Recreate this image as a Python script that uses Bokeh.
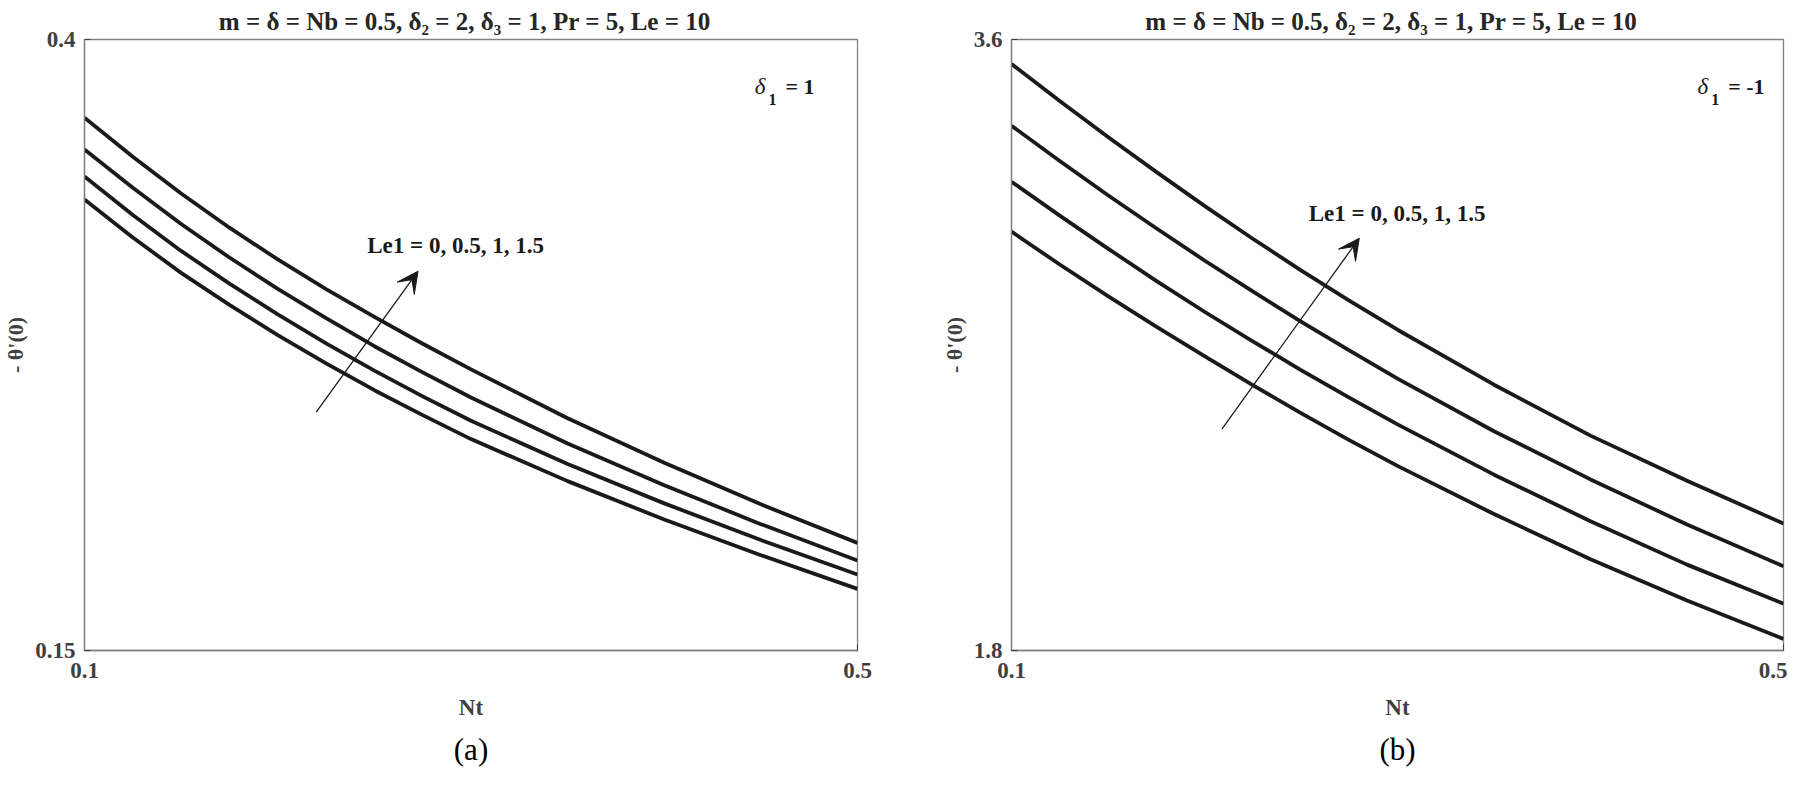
from bokeh.plotting import figure
from bokeh.models import Range1d, FixedTicker, Label, Arrow, VeeHead, Title
from bokeh.layouts import row
from bokeh.embed import file_html
from bokeh.resources import INLINE

# ---------------- data ----------------
nt = [0.100, 0.125, 0.150, 0.175, 0.200, 0.225, 0.250, 0.275, 0.300,
      0.350, 0.400, 0.450, 0.500]
le1_values = ["0", "0.5", "1", "1.5"]

# panel (a): delta1 = 1
a_le1_0 = [0.3345, 0.3190, 0.3045, 0.2914, 0.2790, 0.2675, 0.2565, 0.2463,
           0.2365, 0.2193, 0.2036, 0.1890, 0.1752]
a_le1_05 = [0.3440, 0.3282, 0.3135, 0.3001, 0.2875, 0.2757, 0.2645, 0.2540,
            0.2440, 0.2263, 0.2102, 0.1952, 0.1811]
a_le1_1 = [0.3550, 0.3393, 0.3245, 0.3108, 0.2980, 0.2860, 0.2745, 0.2638,
           0.2535, 0.2347, 0.2176, 0.2017, 0.1868]
a_le1_15 = [0.3680, 0.3520, 0.3370, 0.3230, 0.3100, 0.2979, 0.2865, 0.2755,
            0.2650, 0.2450, 0.2268, 0.2098, 0.1940]

# panel (b): delta1 = -1
b_le1_0 = [3.034, 2.937, 2.844, 2.754, 2.667, 2.582, 2.499, 2.420, 2.344,
           2.202, 2.069, 1.947, 1.834]
b_le1_05 = [3.181, 3.081, 2.984, 2.889, 2.798, 2.711, 2.626, 2.545, 2.466,
            2.318, 2.181, 2.053, 1.938]
b_le1_1 = [3.346, 3.242, 3.141, 3.044, 2.949, 2.858, 2.769, 2.684, 2.601,
           2.446, 2.304, 2.171, 2.048]
b_le1_15 = [3.528, 3.419, 3.313, 3.210, 3.110, 3.013, 2.920, 2.831, 2.745,
            2.583, 2.433, 2.300, 2.174]

x_ticks = [0.1, 0.5]
a_y_ticks = [0.15, 0.4]
b_y_ticks = [1.8, 3.6]

# arrows (x_start, y_start, x_end, y_end) in data units and note anchors
a_arrow = [0.2199, 0.2475, 0.2726, 0.3052]
b_arrow = [0.2091, 2.453, 0.2802, 3.0146]
a_note = [0.2463, 0.3157]
b_note = [0.2540, 3.0875]
note_text = "Le1 = " + ", ".join(le1_values)
title_text = "m = \u03b4 = Nb = 0.5,  \u03b4\u2082 = 2,  \u03b4\u2083 = 1, Pr = 5, Le = 10"
x_label = "Nt"
y_label = "- \u03b8'(0)"

FONT = "Liberation Serif"
GRAY = "#404040"
INK = "#1a1a1a"


def add_text(p, text, x, y, size, style="bold", color=INK):
    p.add_layout(Label(x=x, y=y, x_units="screen", y_units="screen", text=text,
                       text_font=FONT, text_font_size=f"{size}px",
                       text_font_style=style, text_color=color,
                       text_align="left", text_baseline="alphabetic"))


def make_panel(y_ticks, series, arrow, note, delta_value, delta_x, caption,
               fw, border_right):
    p = figure(frame_width=fw, frame_height=611,
               x_range=Range1d(x_ticks[0], x_ticks[1]),
               y_range=Range1d(y_ticks[0], y_ticks[1]),
               output_backend="svg", toolbar_location=None,
               min_border_left=79, min_border_right=border_right,
               min_border_top=39, min_border_bottom=128)
    p.background_fill_color = "white"
    p.border_fill_color = "white"
    p.outline_line_color = "#808080"
    p.outline_line_width = 1.3
    p.grid.grid_line_color = None

    p.title.text = title_text
    p.title.align = "center"
    p.title.text_font = FONT
    p.title.text_font_size = "25px"
    p.title.text_font_style = "bold"
    p.title.text_color = "#262626"
    p.title.standoff = 10

    p.xaxis.ticker = FixedTicker(ticks=x_ticks)
    p.yaxis.ticker = FixedTicker(ticks=y_ticks)
    p.xaxis.major_label_overrides = {v: f"{v:g}" for v in x_ticks}
    p.yaxis.major_label_overrides = {v: f"{v:g}" for v in y_ticks}
    for ax in (p.xaxis, p.yaxis):
        ax.axis_line_color = "#808080"
        ax.axis_line_width = 1.3
        ax.major_tick_in = 6
        ax.major_tick_out = 0
        ax.major_tick_line_color = GRAY
        ax.minor_tick_line_color = None
        ax.major_label_text_font = FONT
        ax.major_label_text_font_size = "23px"
        ax.major_label_text_font_style = "bold"
        ax.major_label_text_color = GRAY
        ax.axis_label_text_font = FONT
        ax.axis_label_text_font_style = "bold"
        ax.axis_label_text_color = GRAY
    p.xaxis.major_label_standoff = 12
    p.yaxis.major_label_standoff = 9
    p.xaxis.axis_label = x_label
    p.xaxis.axis_label_text_font_size = "23px"
    p.xaxis.axis_label_standoff = 14
    p.yaxis.axis_label = y_label
    p.yaxis.axis_label_text_font_size = "22px"
    p.yaxis.axis_label_standoff = 4

    for ys in series:
        p.line(nt, ys, line_color=INK, line_width=3.8, line_join="round")

    p.add_layout(Arrow(x_start=arrow[0], y_start=arrow[1],
                       x_end=arrow[2], y_end=arrow[3],
                       line_color=INK, line_width=1.3,
                       end=VeeHead(size=21, fill_color=INK, line_color=INK,
                                   line_width=1)))
    p.add_layout(Label(x=note[0], y=note[1], text=note_text, text_font=FONT,
                       text_font_size="23px", text_font_style="bold",
                       text_color=INK, text_baseline="alphabetic"))

    # delta1 annotation
    add_text(p, "\u03b4", delta_x, 563.7, 23, style="italic")
    add_text(p, "1", delta_x + 13.7, 551, 16)
    add_text(p, "= " + delta_value, delta_x + 30.7, 563.7, 22)

    # panel caption
    p.add_layout(Title(text=caption, align="center", text_font=FONT,
                       text_font_size="31px", text_font_style="normal",
                       text_color="black", standoff=15), "below")
    return p


p1 = make_panel(a_y_ticks, [a_le1_0, a_le1_05, a_le1_1, a_le1_15], a_arrow,
                a_note, "1", 670.3, "(a)", 773, 75)
p2 = make_panel(b_y_ticks, [b_le1_0, b_le1_05, b_le1_1, b_le1_15], b_arrow,
                b_note, "-1", 686.0, "(b)", 772, 4)

layout = row(p1, p2)
open("out.html", "w").write(file_html(layout, INLINE))
